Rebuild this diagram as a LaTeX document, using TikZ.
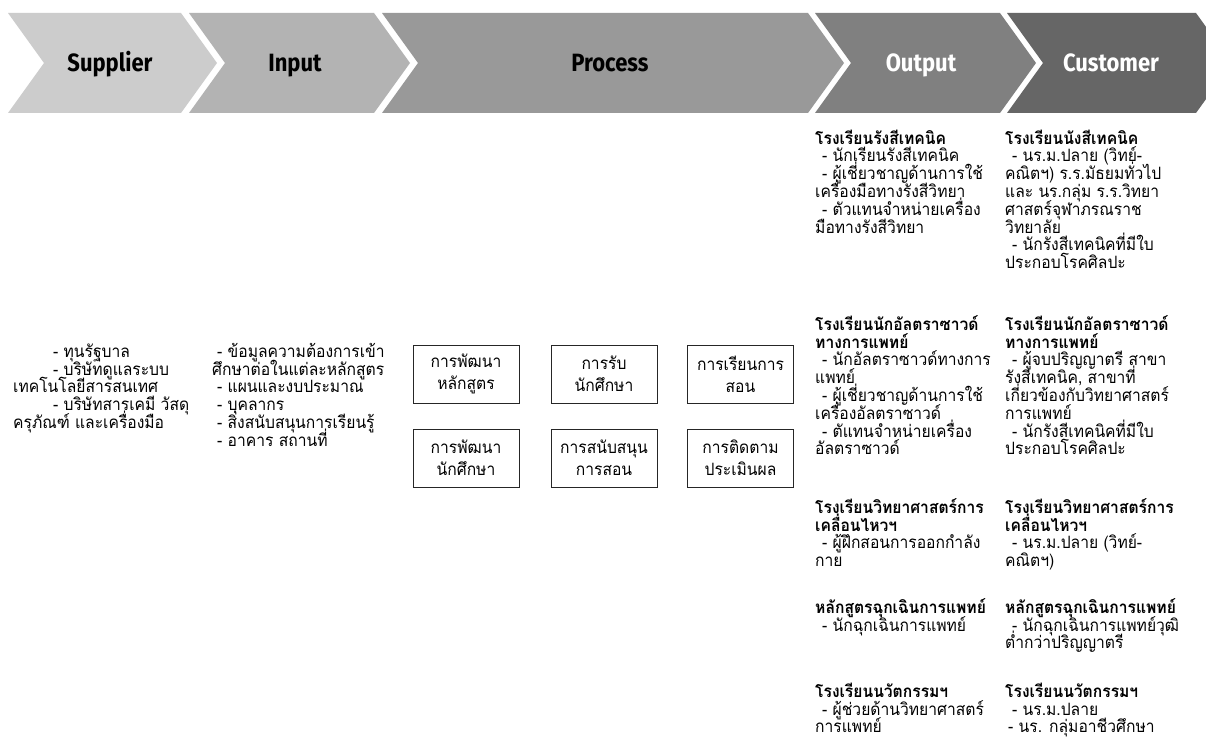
\documentclass[tikz,border=0pt]{standalone}
\usepackage{fontspec}
\newfontfamily\thai[Script=Thai,FakeStretch=0.92]{Loma}
\newfontfamily\headfont[FakeStretch=0.88]{Fira Sans}
\definecolor{csup}{HTML}{CCCCCC}
\definecolor{cinp}{HTML}{B3B3B3}
\definecolor{cpro}{HTML}{999999}
\definecolor{cout}{HTML}{808080}
\definecolor{ccus}{HTML}{666666}
\newcommand\tstrut{\rule{0pt}{19pt}}
\newcommand\ind{\hspace*{7pt}}
\lineskiplimit=-50pt
\lineskip=0pt
\begin{document}
\begin{tikzpicture}[x=1pt,y=-1pt,
  head/.style={font=\headfont\bfseries\fontsize{25}{27}\selectfont, anchor=base, inner sep=0pt},
  col/.style={font={\thai\fontsize{17}{17.8}\selectfont\lineskiplimit=-50pt\lineskip=0pt}, align=left, anchor=north west, inner sep=0pt},
  pbox/.style={draw=black!85, line width=0.9pt, minimum width=106pt, minimum height=58pt, inner sep=0pt, align=center, font={\thai\fontsize{17}{22}\selectfont\lineskiplimit=-50pt\lineskip=0pt}},
]
\useasboundingbox (0,0) rectangle (1206,743);
\clip (0,0) rectangle (1206,743);
\fill[white] (0,0) rectangle (1206,743);
% chevrons
\fill[csup] (8,13) -- (181,13) -- (217,63) -- (181,113) -- (8,113) -- (44,63) -- cycle;
\fill[cinp] (189,13) -- (374,13) -- (410,63) -- (374,113) -- (189,113) -- (225,63) -- cycle;
\fill[cpro] (382,13) -- (808,13) -- (844,63) -- (808,113) -- (382,113) -- (418,63) -- cycle;
\fill[cout] (815,13) -- (1000,13) -- (1036,63) -- (1000,113) -- (815,113) -- (851,63) -- cycle;
\fill[ccus] (1007,13) -- (1196,13) -- (1232,63) -- (1196,113) -- (1007,113) -- (1043,63) -- cycle;
\node[head] (hsup) at (110,71.5) {Supplier};
\node[head] (hinp) at (295,71.5) {Input};
\node[head] (hpro) at (610,71.5) {Process};
\node[head, text=white] (hout) at (921,71.5) {Output};
\node[head, text=white] (hcus) at (1111,71.5) {Customer};
% supplier
\node[col] (sup) at (13,338) {\tstrut\hspace*{40pt}- ทุนรัฐบาล\\
\hspace*{40pt}- บริษัทดูแลระบบ\\
เทคโนโลยีสารสนเทศ\\
\hspace*{40pt}- บริษัทสารเคมี วัสดุ\\
ครุภัณฑ์ และเครื่องมือ};
% input
\node[col] (inp) at (212,338) {\tstrut\hspace*{5pt}- ข้อมูลความต้องการเข้า\\
ศึกษาต่อในแต่ละหลักสูตร\\
\hspace*{5pt}- แผนและงบประมาณ\\
\hspace*{5pt}- บุคลากร\\
\hspace*{5pt}- สิ่งสนับสนุนการเรียนรู้\\
\hspace*{5pt}- อาคาร สถานที่};
% process boxes
\node[pbox] (p1) at (466,374) {การพัฒนา\\หลักสูตร};
\node[pbox] (p2) at (604,374) {การรับ\\นักศึกษา};
\node[pbox] (p3) at (740.5,374) {การเรียนการ\\สอน};
\node[pbox] (p4) at (466,458) {การพัฒนา\\นักศึกษา};
\node[pbox] (p5) at (604,458) {การสนับสนุน\\การสอน};
\node[pbox] (p6) at (740.5,458) {การติดตาม\\ประเมินผล};
% output
\node[col] (o1) at (815,125) {\tstrut\textbf{โรงเรียนรังสีเทคนิค}\\
\ind- นักเรียนรังสีเทคนิค\\
\ind- ผู้เชี่ยวชาญด้านการใช้\\
เครื่องมือทางรังสีวิทยา\\
\ind- ตัวแทนจำหน่ายเครื่อง\\
มือทางรังสีวิทยา};
\node[col] (o2) at (815,311) {\tstrut\textbf{โรงเรียนนักอัลตราซาวด์}\\
\textbf{ทางการแพทย์}\\
\ind- นักอัลตราซาวด์ทางการ\\
แพทย์\\
\ind- ผู้เชี่ยวชาญด้านการใช้\\
เครื่องอัลตราซาวด์\\
\ind- ตัแทนจำหน่ายเครื่อง\\
อัลตราซาวด์};
\node[col] (o3) at (815,494) {\tstrut\textbf{โรงเรียนวิทยาศาสตร์การ}\\
\textbf{เคลื่อนไหวฯ}\\
\ind- ผู้ฝึกสอนการออกกำลัง\\
กาย};
\node[col] (o4) at (815,594) {\tstrut\textbf{หลักสูตรฉุกเฉินการแพทย์}\\
\ind- นักฉุกเฉินการแพทย์};
\node[col] (o5) at (815,678) {\tstrut\textbf{โรงเรียนนวัตกรรมฯ}\\
\ind- ผู้ช่วยด้านวิทยาศาสตร์\\
การแพทย์};
% customer
\node[col] (c1) at (1005,125) {\tstrut\textbf{โรงเรียนนังสีเทคนิค}\\
\ind- นร.ม.ปลาย (วิทย์-\\
คณิตฯ) ร.ร.มัธยมทั่วไป\\
และ นร.กลุ่ม ร.ร.วิทยา\\
ศาสตร์จุฬาภรณราช\\
วิทยาลัย\\
\ind- นักรังสีเทคนิคที่มีใบ\\
ประกอบโรคศิลปะ};
\node[col] (c2) at (1005,311) {\tstrut\textbf{โรงเรียนนักอัลตราซาวด์}\\
\textbf{ทางการแพทย์}\\
\ind- ผู้จบปริญญาตรี สาขา\\
รังสีเทคนิค, สาขาที่\\
เกี่ยวข้องกับวิทยาศาสตร์\\
การแพทย์\\
\ind- นักรังสีเทคนิคที่มีใบ\\
ประกอบโรคศิลปะ};
\node[col] (c3) at (1005,494) {\tstrut\textbf{โรงเรียนวิทยาศาสตร์การ}\\
\textbf{เคลื่อนไหวฯ}\\
\ind- นร.ม.ปลาย (วิทย์-\\
คณิตฯ)};
\node[col] (c4) at (1005,594) {\tstrut\textbf{หลักสูตรฉุกเฉินการแพทย์}\\
\ind- นักฉุกเฉินการแพทย์วุฒิ\\
ต่ำกว่าปริญญาตรี};
\node[col] (c5) at (1005,678) {\tstrut\textbf{โรงเรียนนวัตกรรมฯ}\\
\ind- นร.ม.ปลาย\\
\hspace*{3pt}- นร. กลุ่มอาชีวศึกษา};
\end{tikzpicture}
\end{document}
